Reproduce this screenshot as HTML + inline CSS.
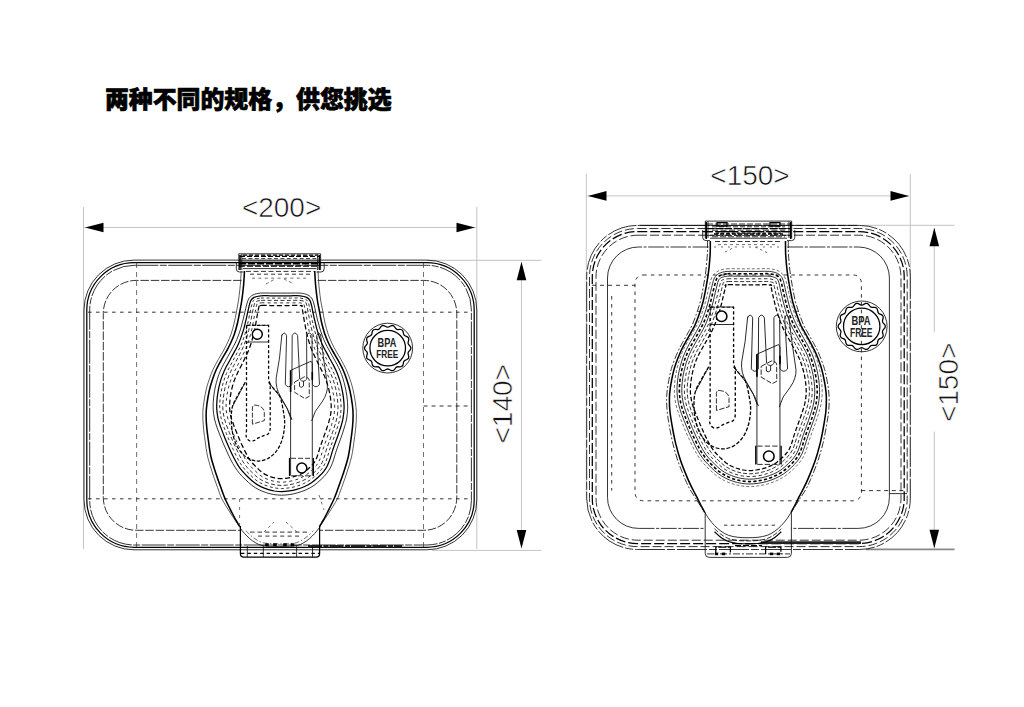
<!DOCTYPE html>
<html><head><meta charset="utf-8"><title>spec</title><style>
html,body{margin:0;padding:0;background:#fff}
body{width:1024px;height:707px;overflow:hidden;font-family:"Liberation Sans",sans-serif}
svg{display:block}
path,circle{fill:none}
.l{stroke:#111;stroke-width:.85}
.lt{stroke:#333;stroke-width:.7}
.lo{stroke:#333;stroke-width:.8}
.lm{stroke:#000;stroke-width:1.55}
.ls{stroke:#000;stroke-width:1.25}
.lb{stroke:#000;stroke-width:1.25}
.lk{stroke:#000;stroke-width:1.6}
.lkk{stroke:#222;stroke-width:2.6}
.lc{stroke:#000;stroke-width:1.45;fill:#fff}
.ti{fill:#000;stroke:#000;stroke-width:.7;stroke-linejoin:round;font-family:"Liberation Sans","Noto Sans CJK SC",sans-serif;font-weight:900;font-size:23.9px}
.ar{fill:#000;stroke:none}
.g{stroke:#c4c4c4;stroke-width:1}
.g2{stroke:#888;stroke-width:1.6}
.tp{fill:#111;stroke:#fff;stroke-width:.6;font-family:"Liberation Sans",sans-serif;font-size:28px}
.bp{fill:#222;stroke:none;font-family:"Liberation Sans",sans-serif;font-weight:bold}
</style></head><body>
<svg width="1024" height="707" viewBox="0 0 1024 707">
<text class="ti" x="104.9" y="108.2">两种不同的规格，供您挑选</text>
<path class="g" d="M83.5 207L83.5 549"/>
<path class="g" d="M476.8 207L476.8 549"/>
<path class="g" d="M84 227.5L476 227.5"/>
<path class="ar" d="M85 227.5L103.5 222.7L103.5 232.3Z"/>
<path class="ar" d="M475 227.5L456.5 232.3L456.5 222.7Z"/>
<path class="g" d="M427 260.3L541.5 260.3"/>
<path class="g" d="M432 550.4L541.5 550.4"/>
<path class="g" d="M521.5 262L521.5 548"/>
<path class="ar" d="M521.5 261.8L526.3 280.3L516.7 280.3Z"/>
<path class="ar" d="M521.5 548.6L516.7 530.1L526.3 530.1Z"/>
<text class="tp" x="241.89" y="217.2">&lt;200&gt;</text>
<text class="tp" transform="translate(511.8 403.8) rotate(-90)" x="0" y="0" text-anchor="middle">&lt;140&gt;</text>
<path class="g" d="M586.3 174L586.3 500"/>
<path class="g" d="M910.3 174L910.3 500"/>
<path class="g" d="M587 195.9L909 195.9"/>
<path class="ar" d="M588 195.9L606.5 191.1L606.5 200.7Z"/>
<path class="ar" d="M909 195.9L890.5 200.7L890.5 191.1Z"/>
<path class="g" d="M862 225.3L954.5 225.3"/>
<path class="g2" d="M866 549.4L954.5 549.4"/>
<path class="g" d="M934.3 228L934.3 332"/>
<path class="g" d="M934.3 431.5L934.3 548"/>
<path class="ar" d="M934.3 227.8L939.1 246.3L929.5 246.3Z"/>
<path class="ar" d="M934.3 548.2L929.5 529.7L939.1 529.7Z"/>
<text class="tp" x="710.29" y="184.7">&lt;150&gt;</text>
<text class="tp" transform="translate(957.7 382.4) rotate(-90)" x="0" y="0" text-anchor="middle">&lt;150&gt;</text>
<path class="l" d="M134 260.1H426.8A50 50 0 0 1 476.8 310.1V499.8A50 50 0 0 1 426.8 549.8H134A50 50 0 0 1 84 499.8V310.1A50 50 0 0 1 134 260.1Z"/>
<path class="lb" d="M134.2 262.7H426.8A47.4 47.4 0 0 1 474.2 310.1V499.9A47.4 47.4 0 0 1 426.8 547.3H134.2A47.4 47.4 0 0 1 86.8 499.9V310.1A47.4 47.4 0 0 1 134.2 262.7Z"/>
<path class="l" d="M134.3 265.3H426.8A44.6 44.6 0 0 1 471.4 309.9V500.4A44.6 44.6 0 0 1 426.8 545H134.3A44.6 44.6 0 0 1 89.7 500.4V309.9A44.6 44.6 0 0 1 134.3 265.3Z" stroke-dasharray="24 1.5 7 1.5"/>
<path class="l" d="M241.6 280.4H136.3A33 33 0 0 0 103.3 313.4V497.3A33 33 0 0 0 136.3 530.3H240.4" stroke-dasharray="8.5 1.8"/>
<path class="l" d="M317.6 280.4H423.8A33 33 0 0 1 456.8 313.4V497.3A33 33 0 0 1 423.8 530.3H319.6" stroke-dasharray="8.5 1.8"/>
<path class="lt" d="M136.6 263L136.6 547" stroke-dasharray="5 4"/>
<path class="lt" d="M423.5 263L423.5 547" stroke-dasharray="5 4"/>
<path class="l" d="M88 312.2L472 312.2" stroke-dasharray="3.6 4.4"/>
<path class="l" d="M88 498.8L472 498.8" stroke-dasharray="3.6 4.4"/>
<path class="l" d="M423.6 406L472 406" stroke-dasharray="4 4"/>
<path class="lkk" d="M308 546.3L402 546.3" stroke-dasharray="14 1.5 5 1"/>
<path class="lo" d="M241.2 271C241.1 272.7 240.8 277.8 240.6 281C240.4 284.2 240.2 286.7 239.8 290C239.4 293.3 239 297.3 238.4 301C237.8 304.7 237.1 308.3 236.4 312C235.7 315.7 235.1 319.3 234.2 323C233.3 326.7 232.2 330.7 231.1 334C230 337.3 228.7 340.2 227.4 343C226.1 345.8 224.8 348.3 223.3 351C221.7 353.7 220.1 356.3 218.4 359.4C216.6 362.5 214.6 366.1 213 369.5C211.4 372.9 210.2 376.4 209 380C207.8 383.6 206.8 386.8 205.9 391C205 395.2 204 401 203.5 405C203 409 202.8 411.3 202.8 415C202.8 418.7 203 422.8 203.4 427C203.8 431.2 204.3 435 205 440C205.7 445 206.4 451.3 207.7 457C209 462.7 211 468.3 212.8 474C214.7 479.7 217.3 486.8 218.8 491C220.3 495.2 220.7 496.5 221.9 499C223.1 501.5 224.6 503.7 226 506C227.4 508.3 228.9 510.7 230.4 513C231.9 515.3 233.5 517.7 235 520C236.6 522.3 238.9 525.6 239.7 526.7"/>
<path class="lo" d="M318 271C318.1 272.7 318.4 277.8 318.6 281C318.8 284.2 319 286.7 319.4 290C319.8 293.3 320.2 297.3 320.8 301C321.4 304.7 322.2 308.3 322.9 312C323.6 315.7 324.1 319.3 325 323C325.9 326.7 327 330.7 328.1 334C329.2 337.3 330.5 340.2 331.8 343C333.1 345.8 334.4 348.3 336 351C337.5 353.7 339.1 356.3 340.9 359.4C342.6 362.5 344.6 366.1 346.2 369.5C347.8 372.9 349 376.4 350.2 380C351.4 383.6 352.4 386.8 353.3 391C354.2 395.2 355.2 401 355.7 405C356.2 409 356.4 411.3 356.4 415C356.4 418.7 356.2 422.8 355.8 427C355.4 431.2 354.9 435 354.2 440C353.5 445 352.8 451.3 351.5 457C350.2 462.7 348.2 468.3 346.4 474C344.6 479.7 341.9 486.8 340.4 491C338.9 495.2 338.5 496.5 337.3 499C336.1 501.5 334.6 503.7 333.2 506C331.8 508.3 330.3 510.7 328.8 513C327.3 515.3 325.8 517.7 324.2 520C322.7 522.3 320.3 525.6 319.5 526.7"/>
<path class="lm" d="M244.5 271C244.4 272.7 244.1 277.8 243.9 281C243.7 284.2 243.5 286.7 243.1 290C242.7 293.3 242.3 297.3 241.7 301C241.1 304.7 240.4 308.3 239.7 312C239 315.7 238.4 319.3 237.5 323C236.6 326.7 235.5 330.7 234.4 334C233.3 337.3 232 340.2 230.7 343C229.4 345.8 228.1 348.3 226.6 351C225 353.7 223.4 356.3 221.7 359.4C219.9 362.5 217.9 366.1 216.3 369.5C214.7 372.9 213.5 376.4 212.3 380C211.1 383.6 210.1 386.8 209.2 391C208.3 395.2 207.3 401 206.8 405C206.3 409 206.1 411.3 206.1 415C206.1 418.7 206.3 422.8 206.7 427C207.1 431.2 207.6 435 208.3 440C209 445 209.7 451.3 211 457C212.3 462.7 214.3 468.3 216.1 474C218 479.7 220.6 486.8 222.1 491C223.6 495.2 224.1 496.5 225.2 499C226.3 501.5 227.4 503.7 228.6 506C229.7 508.3 230.9 510.7 232.1 513C233.3 515.3 234.6 517.7 235.8 520C237.1 522.3 239.1 525.6 239.7 526.7"/>
<path class="lm" d="M314.7 271C314.8 272.7 315.1 277.8 315.3 281C315.5 284.2 315.7 286.7 316.1 290C316.5 293.3 316.9 297.3 317.5 301C318.1 304.7 318.9 308.3 319.6 312C320.2 315.7 320.8 319.3 321.7 323C322.6 326.7 323.7 330.7 324.8 334C325.9 337.3 327.2 340.2 328.5 343C329.8 345.8 331.1 348.3 332.7 351C334.2 353.7 335.8 356.3 337.6 359.4C339.3 362.5 341.3 366.1 342.9 369.5C344.5 372.9 345.7 376.4 346.9 380C348.1 383.6 349.1 386.8 350 391C350.9 395.2 351.9 401 352.4 405C352.9 409 353.1 411.3 353.1 415C353.1 418.7 352.9 422.8 352.5 427C352.1 431.2 351.6 435 350.9 440C350.2 445 349.5 451.3 348.2 457C346.9 462.7 345 468.3 343.1 474C341.2 479.7 338.6 486.8 337.1 491C335.6 495.2 335.1 496.5 334 499C332.9 501.5 331.8 503.7 330.6 506C329.5 508.3 328.3 510.7 327.1 513C325.9 515.3 324.6 517.7 323.4 520C322.1 522.3 320.1 525.6 319.5 526.7"/>
<path class="l" d="M239.8 527.7C240.6 528.6 242.7 531.5 244.3 533.3C246 535.1 247.9 537 249.7 538.6C251.5 540.2 253.3 541.5 255.3 542.6C257.3 543.7 259.1 544.8 261.5 545.4C263.9 546 267 546 270 546.2C273 546.4 276.4 546.4 279.6 546.4C282.8 546.4 286.2 546.4 289.2 546.2C292.2 546 295.2 546 297.7 545.4C300.1 544.8 301.9 543.7 303.9 542.6C305.9 541.5 307.7 540.2 309.5 538.6C311.3 537 313.2 535.1 314.9 533.3C316.5 531.5 318.6 528.6 319.4 527.7"/>
<path class="lt" d="M245.9 530.7C246.8 531.6 249.5 534.5 251.3 536C253.1 537.5 254.9 538.9 256.9 540C258.9 541.1 260.7 542.2 263.1 542.8C265.6 543.4 268.9 543.4 271.6 543.6C274.4 543.8 276.9 543.8 279.6 543.8C282.3 543.8 284.8 543.8 287.6 543.6C290.3 543.4 293.6 543.4 296.1 542.8C298.5 542.2 300.3 541.1 302.3 540C304.3 538.9 306.1 537.5 307.9 536C309.7 534.5 312.4 531.6 313.3 530.7" stroke-dasharray="5 2 1.5 2"/>
<path class="lb" d="M240.4 526V553.8Q240.4 557.2 243.8 557.2H316.2Q319.6 557.2 319.6 553.8V526"/>
<path class="lb" d="M241 553.4L319 553.4" stroke-dasharray="3.4 3"/>
<path class="l" d="M247.3 546L247.3 557"/>
<path class="l" d="M263.3 546L263.3 557"/>
<path class="l" d="M296.6 546L296.6 557"/>
<path class="l" d="M312.5 546L312.5 557"/>
<rect x="265.2" y="543.3" width="3.6" height="3" fill="#000"/>
<rect x="273.2" y="543.3" width="3.6" height="3" fill="#000"/>
<rect x="283.2" y="543.3" width="3.6" height="3" fill="#000"/>
<rect x="290.7" y="543.3" width="3.6" height="3" fill="#000"/>
<path class="l" d="M250 532.1L310 532.1" stroke-dasharray="4.5 3"/>
<path class="l" d="M258 536.1L302 536.1" stroke-dasharray="4 3.4"/>
<path class="lt" d="M239.6 499V527" stroke-dasharray="3 5"/>
<path class="lt" d="M319 495L324 510" stroke-dasharray="3 4"/>
<path class="lt" d="M264 532L274 522" stroke-dasharray="3 3"/>
<path class="lt" d="M286 522L297 532" stroke-dasharray="3 3"/>
<path class="l" d="M238.8 270V253.8H320.6V270"/>
<path class="lm" d="M240 255V270M319.4 255V270"/>
<path class="lb" d="M243 255L317 255" stroke-dasharray="4 2"/>
<path class="l" d="M236.3 262V268.8Q236.3 272 239.5 272H243.5M324.2 262V268.8Q324.2 272 321 272H316.5"/>
<path class="l" d="M241.8 254L241.8 270"/>
<path class="l" d="M317.6 254L317.6 270"/>
<path class="lb" d="M240 256.4L319.5 256.4" stroke-dasharray="5 2"/>
<path class="l" d="M242 258.6L317.5 258.6" stroke-dasharray="4 2.4"/>
<path class="l" d="M239 261L320.5 261"/>
<path class="lk" d="M239 263.6L320.5 263.6" stroke-dasharray="7 2"/>
<path class="lb" d="M239 266.2L320.5 266.2" stroke-dasharray="6 2"/>
<path class="l" d="M243 268.6L316.5 268.6"/>
<path class="l" d="M246 271.4L314 271.4" stroke-dasharray="5 2.5"/>
<path class="l" d="M250 274.2L310 274.2" stroke-dasharray="4 3"/>
<path class="lt" d="M252 278.2L308 278.2" stroke-dasharray="3 3.4"/>
<path class="lt" d="M266 284L275 279M284 279L294 284" stroke-dasharray="3 2.5"/>
<path class="l" d="M260.4 293.1C263.3 292.8 267.1 293.1 270.4 293.1C273.7 293.1 277.1 293.1 280.4 293.1C283.7 293.1 287.1 293.1 290.4 293.1C293.7 293.1 297.5 292.8 300.4 293.1C303.3 293.4 305.9 294 307.9 295C309.9 296 311.1 297.3 312.2 299C313.2 300.7 313.6 302.8 314.2 305C314.8 307.2 315.1 309.5 315.7 312C316.3 314.5 316.9 317.3 317.5 320C318.2 322.7 318.9 325.3 319.7 328C320.5 330.7 321.5 333.5 322.4 336C323.3 338.5 324.2 340.7 325.3 343C326.4 345.3 327.7 347.7 329 350C330.3 352.3 331.6 354.7 332.9 357C334.2 359.3 335.6 361.7 336.8 364C338 366.3 339.2 368.7 340.2 371C341.2 373.3 341.9 375.3 342.8 378C343.6 380.7 344.5 383.8 345.2 387C345.9 390.2 346.6 393.5 347 397C347.4 400.5 347.8 404.3 347.7 408C347.6 411.7 347.1 415.7 346.6 419C346 422.3 345 425.2 344.2 428C343.4 430.8 342.5 433.3 341.6 436C340.6 438.7 339.7 441.3 338.7 444C337.8 446.7 336.7 449.3 335.9 452C335 454.7 334.3 457.5 333.5 460C332.6 462.5 331.9 464.8 330.7 467C329.6 469.2 328.2 471.4 326.6 473.5C325 475.6 323.3 477.3 321.2 479.3C319.1 481.3 316.5 483.6 314 485.4C311.5 487.1 308.9 488.6 306.1 489.8C303.4 491 300.4 492 297.7 492.8C295 493.6 292.5 494.1 289.8 494.5C287.1 494.9 284.3 495.2 281.6 495.2C278.9 495.2 276.3 494.9 273.8 494.5C271.3 494.1 269.1 493.6 266.7 492.8C264.3 492 261.6 491 259.1 489.8C256.7 488.6 254.3 487.1 252 485.4C249.7 483.6 247.2 481.3 245.2 479.3C243.1 477.3 241.3 475.6 239.6 473.5C237.9 471.4 236.3 469.2 234.9 467C233.4 464.8 232.2 462.5 230.9 460C229.6 457.5 228.3 454.7 227.1 452C225.8 449.3 224.6 446.7 223.5 444C222.4 441.3 221.3 438.7 220.3 436C219.2 433.3 218.2 430.8 217.2 428C216.3 425.2 215.2 422.3 214.5 419C213.8 415.7 213.2 411.7 213.1 408C213 404.3 213.3 400.5 213.7 397C214 393.5 214.6 390.2 215.3 387C216 383.8 216.9 380.7 217.7 378C218.5 375.3 219.3 373.3 220.3 371C221.3 368.7 222.4 366.3 223.7 364C224.9 361.7 226.3 359.3 227.6 357C228.9 354.7 230.2 352.3 231.5 350C232.8 347.7 234.1 345.3 235.3 343C236.4 340.7 237.2 338.5 238.2 336C239.1 333.5 240.1 330.7 240.9 328C241.7 325.3 242.4 322.7 243 320C243.7 317.3 244.3 314.5 244.9 312C245.5 309.5 246 307.2 246.6 305C247.2 302.8 247.5 300.7 248.6 299C249.6 297.3 250.9 296 252.9 295C254.9 294 257.5 293.4 260.4 293.1Z"/>
<path class="lb" d="M260.7 295.8C263.4 295.5 267.1 295.8 270.4 295.8C273.7 295.8 277.1 295.8 280.4 295.8C283.7 295.8 287.1 295.8 290.4 295.8C293.7 295.8 297.4 295.5 300.1 295.8C302.8 296.1 305.1 296.6 306.7 297.4C308.3 298.2 309.1 299.1 309.9 300.4C310.7 301.8 311.1 303.7 311.6 305.7C312.1 307.7 312.5 310.1 313 312.6C313.5 315.1 314.1 318 314.8 320.7C315.4 323.4 316 326.1 316.8 328.9C317.6 331.6 318.5 334.5 319.4 337.1C320.3 339.7 321.2 342 322.3 344.4C323.4 346.8 324.7 349.3 326 351.6C327.3 354 328.6 356.4 329.8 358.7C331.1 361 332.5 363.4 333.6 365.6C334.8 367.9 335.9 370.2 336.9 372.4C337.8 374.6 338.5 376.5 339.3 379.1C340.2 381.6 341.1 384.7 341.7 387.8C342.4 390.8 343 394.1 343.4 397.4C343.8 400.8 344.2 404.4 344.1 407.9C344 411.4 343.6 415.2 343 418.4C342.5 421.6 341.6 424.2 340.8 427C340 429.7 339.1 432.2 338.2 434.8C337.3 437.5 336.3 440.1 335.3 442.8C334.4 445.5 333.3 448.2 332.5 450.9C331.6 453.6 330.9 456.4 330.1 458.8C329.2 461.3 328.6 463.3 327.5 465.4C326.5 467.5 325.2 469.4 323.8 471.3C322.3 473.2 320.7 474.8 318.7 476.7C316.7 478.5 314.3 480.8 311.9 482.5C309.6 484.1 307.2 485.4 304.7 486.5C302.1 487.7 299.3 488.6 296.7 489.3C294.1 490.1 291.8 490.6 289.3 490.9C286.7 491.3 284.1 491.6 281.6 491.6C279.1 491.6 276.7 491.3 274.4 491C272.1 490.6 270.1 490.1 267.8 489.4C265.5 488.7 263 487.7 260.8 486.6C258.5 485.5 256.3 484.2 254.2 482.5C252 480.9 249.6 478.6 247.7 476.7C245.7 474.8 244 473.1 242.4 471.2C240.7 469.3 239.2 467.2 237.9 465.1C236.5 462.9 235.4 460.8 234.1 458.3C232.8 455.9 231.5 453.1 230.3 450.5C229.1 447.9 227.9 445.2 226.8 442.6C225.7 440 224.6 437.3 223.6 434.7C222.6 432.1 221.6 429.6 220.6 426.9C219.7 424.1 218.7 421.4 218 418.3C217.4 415.1 216.8 411.3 216.7 407.9C216.6 404.4 216.9 400.7 217.2 397.4C217.6 394 218.2 390.8 218.8 387.7C219.5 384.7 220.3 381.6 221.1 379.1C221.9 376.5 222.6 374.6 223.6 372.4C224.5 370.2 225.7 367.9 226.8 365.6C228 363.4 229.4 361.1 230.6 358.7C231.9 356.4 233.2 354 234.5 351.6C235.8 349.3 237.1 346.8 238.2 344.4C239.3 342 240.2 339.7 241.1 337.1C242 334.5 243 331.6 243.8 328.9C244.6 326.1 245.2 323.4 245.8 320.7C246.5 318 247 315.1 247.6 312.6C248.2 310.1 248.7 307.8 249.2 305.7C249.8 303.7 250.1 301.8 250.9 300.4C251.7 299.1 252.5 298.2 254.1 297.4C255.7 296.6 258 296.1 260.7 295.8Z"/>
<path class="l" d="M260.9 298.1C263.5 297.8 267.2 298.1 270.4 298.1C273.6 298.1 277.1 298.1 280.4 298.1C283.7 298.1 287.2 298.1 290.4 298.1C293.6 298.1 297.3 297.8 299.9 298.1C302.4 298.3 304.3 298.9 305.7 299.5C307 300.1 307.4 300.5 308 301.7C308.6 302.8 308.9 304.4 309.3 306.3C309.8 308.2 310.2 310.6 310.7 313.1C311.2 315.6 311.8 318.5 312.4 321.3C313 324 313.6 326.8 314.3 329.6C315.1 332.4 316 335.4 316.9 338C317.8 340.7 318.6 343.1 319.7 345.6C320.8 348.1 322.2 350.6 323.4 353C324.7 355.5 326 357.8 327.2 360.2C328.5 362.5 329.8 364.8 330.9 367.1C332.1 369.3 333.1 371.4 334.1 373.6C335 375.8 335.6 377.5 336.4 380C337.2 382.5 338.1 385.5 338.7 388.4C339.4 391.4 340 394.5 340.4 397.8C340.7 401 341.1 404.5 341.1 407.9C341 411.2 340.5 414.8 340 417.9C339.5 420.9 338.6 423.5 337.8 426.1C337 428.8 336.2 431.2 335.3 433.8C334.4 436.4 333.4 439.1 332.4 441.8C331.5 444.5 330.4 447.2 329.6 449.9C328.7 452.6 327.9 455.5 327.2 457.9C326.4 460.2 325.8 462.1 324.8 464C323.8 465.9 322.7 467.7 321.4 469.4C320 471.2 318.5 472.7 316.6 474.5C314.7 476.2 312.4 478.4 310.2 479.9C308 481.5 305.8 482.7 303.4 483.7C301 484.8 298.3 485.7 295.9 486.4C293.4 487.1 291.2 487.6 288.8 487.9C286.4 488.3 283.9 488.5 281.6 488.6C279.3 488.6 277 488.3 274.8 487.9C272.7 487.6 270.9 487.1 268.7 486.5C266.6 485.8 264.2 484.9 262.1 483.9C260 482.8 258.1 481.6 256 480.1C253.9 478.5 251.7 476.3 249.8 474.5C247.9 472.7 246.2 471.1 244.7 469.2C243.1 467.4 241.8 465.5 240.4 463.4C239.1 461.4 238 459.3 236.8 456.9C235.6 454.6 234.3 451.8 233.1 449.2C231.9 446.6 230.7 444 229.6 441.4C228.5 438.8 227.5 436.2 226.4 433.6C225.4 431 224.4 428.5 223.5 425.9C222.6 423.2 221.7 420.7 221 417.7C220.4 414.6 219.9 411.1 219.7 407.7C219.6 404.4 219.9 400.9 220.3 397.7C220.6 394.5 221.2 391.3 221.8 388.4C222.4 385.4 223.3 382.4 224.1 380C224.8 377.5 225.5 375.8 226.4 373.6C227.3 371.4 228.4 369.3 229.5 367.1C230.7 364.8 232 362.5 233.2 360.2C234.5 357.8 235.8 355.5 237 353C238.3 350.6 239.7 348.1 240.8 345.6C241.9 343.1 242.7 340.7 243.7 338.1C244.6 335.4 245.5 332.4 246.2 329.6C247 326.8 247.6 324 248.2 321.3C248.8 318.6 249.4 315.7 249.9 313.2C250.4 310.7 250.9 308.3 251.4 306.4C251.9 304.5 252.2 302.8 252.8 301.7C253.4 300.5 253.8 300.1 255.1 299.5C256.5 298.9 258.4 298.3 260.9 298.1Z" stroke-dasharray="3 2.6"/>
<path class="l" d="M261.2 300.4C263.6 300.2 267.2 300.4 270.4 300.4C273.6 300.4 277.1 300.4 280.4 300.4C283.7 300.4 287.2 300.4 290.4 300.4C293.6 300.4 297.2 300.2 299.6 300.4C302 300.5 303.6 301.1 304.6 301.5C305.7 302 305.6 302 306 302.9C306.4 303.8 306.7 305.1 307.1 306.9C307.5 308.7 307.9 311.1 308.4 313.6C308.9 316.1 309.4 319.1 310 321.9C310.6 324.7 311.2 327.5 311.9 330.4C312.6 333.2 313.5 336.2 314.4 339C315.2 341.7 316.1 344.2 317.2 346.8C318.3 349.4 319.7 352 320.9 354.4C322.1 356.9 323.4 359.3 324.6 361.6C325.8 364 327.1 366.3 328.2 368.5C329.3 370.7 330.4 372.7 331.2 374.8C332.1 376.9 332.8 378.5 333.5 380.9C334.3 383.3 335.1 386.2 335.8 389.1C336.4 392 336.9 395 337.3 398.1C337.7 401.3 338 404.6 338 407.8C337.9 411 337.5 414.4 337 417.3C336.5 420.2 335.7 422.7 334.9 425.3C334.1 427.8 333.3 430.3 332.4 432.8C331.5 435.4 330.5 438.1 329.6 440.7C328.6 443.4 327.5 446.3 326.6 449C325.8 451.7 325 454.6 324.3 456.9C323.5 459.1 323 460.8 322.1 462.6C321.2 464.4 320.2 465.9 318.9 467.5C317.7 469.1 316.2 470.6 314.5 472.2C312.7 473.9 310.5 476 308.4 477.4C306.4 478.9 304.4 480 302.1 481C299.9 482 297.3 482.8 295 483.5C292.7 484.1 290.6 484.6 288.4 484.9C286.1 485.2 283.8 485.5 281.6 485.5C279.4 485.5 277.3 485.2 275.3 484.9C273.3 484.6 271.6 484.2 269.7 483.6C267.7 482.9 265.5 482.1 263.5 481.1C261.5 480.1 259.8 479.1 257.8 477.6C255.9 476.2 253.7 474 251.9 472.3C250.1 470.6 248.5 469 247 467.3C245.6 465.5 244.3 463.7 243 461.7C241.8 459.8 240.7 457.8 239.5 455.5C238.3 453.2 237.1 450.5 235.9 447.9C234.7 445.4 233.5 442.8 232.4 440.2C231.3 437.6 230.3 435 229.3 432.5C228.3 429.9 227.3 427.5 226.4 424.9C225.6 422.3 224.6 419.9 224 417C223.4 414.2 222.9 410.8 222.8 407.6C222.7 404.4 223 401.1 223.3 398C223.7 394.9 224.2 391.9 224.8 389C225.4 386.2 226.2 383.3 227 380.9C227.7 378.5 228.4 376.9 229.2 374.8C230.1 372.7 231.1 370.7 232.2 368.5C233.3 366.3 234.6 364 235.9 361.6C237.1 359.3 238.4 356.9 239.6 354.4C240.8 352 242.2 349.4 243.3 346.8C244.4 344.3 245.3 341.7 246.2 339C247.1 336.3 247.9 333.2 248.7 330.4C249.4 327.5 250 324.7 250.6 321.9C251.2 319.1 251.7 316.2 252.2 313.7C252.7 311.2 253.2 308.8 253.7 307C254.1 305.2 254.4 303.8 254.8 302.9C255.2 302 255.1 302 256.2 301.5C257.2 301.1 258.8 300.5 261.2 300.4Z" stroke-dasharray="4 2.4"/>
<path class="l" d="M261.5 302.8C263.6 302.7 267.2 302.9 270.4 302.9C273.6 302.9 277.1 302.9 280.4 302.9C283.7 302.9 287.2 302.9 290.4 302.9C293.6 302.9 297.2 302.7 299.3 302.8C301.5 303 302.8 303.5 303.5 303.8C304.3 304 303.7 303.6 303.9 304.2C304.1 304.9 304.4 305.9 304.7 307.6C305 309.2 305.4 311.7 305.9 314.2C306.3 316.7 306.9 319.7 307.4 322.5C308 325.4 308.5 328.2 309.2 331.2C309.9 334.1 310.7 337.2 311.6 340C312.5 342.8 313.4 345.5 314.4 348.1C315.5 350.8 316.9 353.4 318.1 355.9C319.3 358.5 320.6 360.9 321.8 363.2C323 365.6 324.2 367.8 325.3 370C326.4 372.1 327.3 374.1 328.2 376.1C329 378.1 329.6 379.6 330.3 381.9C331.1 384.2 331.9 387 332.5 389.8C333.1 392.6 333.7 395.5 334 398.5C334.4 401.5 334.7 404.7 334.7 407.8C334.6 410.8 334.2 414 333.7 416.8C333.2 419.5 332.5 421.8 331.7 424.3C331 426.8 330.1 429.2 329.2 431.8C328.4 434.3 327.4 436.9 326.4 439.6C325.5 442.3 324.4 445.2 323.5 447.9C322.6 450.6 321.8 453.6 321.1 455.8C320.4 458 319.9 459.5 319.1 461.1C318.3 462.7 317.5 464 316.3 465.5C315.2 466.9 313.8 468.3 312.2 469.8C310.6 471.4 308.4 473.4 306.5 474.7C304.6 476.1 302.8 477 300.7 477.9C298.7 478.9 296.2 479.7 294.1 480.3C292 480.9 289.9 481.3 287.9 481.6C285.8 481.9 283.6 482.2 281.6 482.2C279.6 482.2 277.7 481.9 275.9 481.6C274 481.3 272.5 481 270.7 480.4C268.9 479.8 266.8 479.1 265 478.2C263.2 477.3 261.6 476.4 259.8 475C258 473.6 255.9 471.5 254.2 469.9C252.5 468.3 251 466.8 249.6 465.1C248.2 463.5 247 461.8 245.8 459.9C244.6 458.1 243.6 456.2 242.5 454C241.3 451.8 240 449 238.9 446.5C237.7 444 236.6 441.4 235.5 438.9C234.4 436.4 233.4 433.8 232.4 431.2C231.4 428.7 230.4 426.3 229.6 423.8C228.7 421.4 227.9 419.1 227.3 416.4C226.7 413.6 226.2 410.5 226.1 407.5C226 404.5 226.3 401.3 226.6 398.4C226.9 395.4 227.4 392.5 228 389.7C228.6 387 229.4 384.2 230.2 381.9C230.9 379.6 231.5 378.1 232.3 376.1C233.1 374.1 234.1 372.1 235.2 370C236.2 367.8 237.5 365.6 238.7 363.2C239.9 360.9 241.1 358.5 242.4 356C243.6 353.4 245 350.8 246.1 348.1C247.2 345.5 248 342.9 248.9 340C249.8 337.2 250.6 334.1 251.3 331.2C252.1 328.3 252.6 325.4 253.2 322.5C253.7 319.7 254.2 316.8 254.7 314.3C255.2 311.8 255.7 309.4 256.1 307.7C256.4 306 256.7 304.9 256.9 304.2C257.1 303.6 256.5 304 257.3 303.8C258 303.5 259.3 303 261.5 302.8Z" stroke-dasharray="3 3.2"/>
<path class="lb" d="M261.7 305.4C263.7 305.3 267.3 305.5 270.4 305.5C273.5 305.5 277.1 305.5 280.4 305.5C283.7 305.5 287.3 305.5 290.4 305.5C293.5 305.5 297.1 305.3 299.1 305.4C301.1 305.5 301.9 306.1 302.4 306.1C302.8 306.1 301.7 305.3 301.7 305.6C301.7 306 301.9 306.7 302.2 308.2C302.4 309.8 302.9 312.3 303.3 314.8C303.7 317.3 304.2 320.3 304.7 323.2C305.3 326.1 305.8 329 306.4 332C307.1 335 307.9 338.2 308.8 341.1C309.6 344 310.5 346.7 311.6 349.5C312.7 352.2 314 354.9 315.2 357.5C316.4 360.1 317.7 362.5 318.8 364.9C320 367.2 321.2 369.5 322.3 371.6C323.3 373.7 324.2 375.6 325 377.5C325.8 379.4 326.4 380.8 327 383C327.7 385.2 328.5 387.9 329.1 390.6C329.7 393.2 330.2 396.1 330.6 398.9C330.9 401.8 331.3 404.8 331.2 407.7C331.2 410.6 330.8 413.6 330.3 416.2C329.8 418.8 329.1 420.9 328.4 423.4C327.7 425.8 326.8 428.1 326 430.6C325.1 433.1 324.1 435.8 323.2 438.5C322.2 441.2 321.1 444.2 320.2 446.9C319.3 449.6 318.5 452.6 317.8 454.7C317.2 456.8 316.8 458.1 316 459.5C315.3 461 314.6 462.1 313.6 463.4C312.6 464.7 311.3 465.9 309.8 467.3C308.3 468.7 306.3 470.6 304.6 471.9C302.8 473.1 301.2 473.9 299.3 474.8C297.4 475.6 295.1 476.4 293.1 476.9C291.1 477.5 289.3 477.9 287.4 478.2C285.4 478.5 283.4 478.7 281.6 478.7C279.8 478.7 278.1 478.5 276.4 478.2C274.8 477.9 273.4 477.6 271.7 477.1C270.1 476.6 268.2 475.9 266.6 475.1C264.9 474.3 263.6 473.5 261.9 472.2C260.2 470.9 258.2 469 256.6 467.4C255 465.8 253.5 464.5 252.2 462.9C250.9 461.4 249.8 459.8 248.7 458.1C247.6 456.3 246.7 454.6 245.6 452.4C244.4 450.2 243.2 447.5 242 445.1C240.9 442.6 239.7 440.1 238.7 437.5C237.6 435 236.6 432.4 235.6 430C234.6 427.5 233.7 425.1 232.9 422.7C232 420.4 231.2 418.2 230.7 415.7C230.1 413.1 229.7 410.2 229.6 407.3C229.5 404.5 229.8 401.5 230.1 398.7C230.4 395.9 230.9 393.1 231.4 390.4C232 387.8 232.8 385.1 233.5 382.9C234.1 380.8 234.7 379.3 235.5 377.4C236.3 375.6 237.2 373.7 238.2 371.6C239.2 369.5 240.5 367.2 241.6 364.9C242.8 362.5 244 360.1 245.2 357.5C246.5 355 247.8 352.2 248.9 349.5C250 346.8 250.9 344 251.8 341.1C252.6 338.2 253.4 335 254.1 332C254.8 329.1 255.3 326.1 255.9 323.2C256.4 320.4 256.8 317.4 257.3 314.9C257.7 312.5 258.3 310 258.6 308.4C258.9 306.9 259.1 306 259.1 305.6C259.1 305.2 258 306.1 258.4 306.1C258.9 306.1 259.7 305.5 261.7 305.4Z" stroke-dasharray="5 2.6"/>
<g><path class="ls" d="M246.5 325.3V431Q244.6 438.5 250 441Q254 441.6 257 438.6Q262 436.2 267.5 434.4Q270.4 432.6 270.2 427V384L268.6 380V325.3Z" stroke-dasharray="3 2.2"/><path class="l" d="M246.5 325.3H268.6" stroke-dasharray="4 2"/><path class="l" d="M246.5 342H268.6"/><circle class="lc" cx="257.3" cy="334.2" r="5"/><path class="l" d="M252.4 424.2V408Q252.6 404.5 256 405.2Q264.3 406.5 264.3 413V420.6Z" stroke-dasharray="5 1.6"/><path class="lb" d="M245.2 382.4C244 384.5 240.1 391 238 395C235.9 399 233.6 402.3 232.5 406.5C231.4 410.7 231.2 415.2 231.3 420C231.4 424.8 231.9 430.3 233 435C234.1 439.7 235.8 444.3 238 448C240.2 451.7 242.8 454.8 246 457C249.2 459.2 253.3 460.8 257 461C260.7 461.2 264.8 460.2 268 458.5C271.2 456.8 274.2 454.1 276.5 451C278.8 447.9 280.6 444.3 282 440C283.4 435.7 284.4 429.7 284.6 425C284.9 420.3 284.3 416.7 283.5 412C282.7 407.3 281.5 400.4 279.9 396.6C278.3 392.8 275.9 391.4 274 389C272.1 386.6 269.5 383.5 268.6 382.4" stroke-dasharray="3.6 1.6"/><path class="l" d="M232.5 406.5L245.2 382.4"/><path class="l" d="M268.6 382.4L279.9 396.6L288.4 410.7L292 420"/><path class="l" d="M281.9 334.5L279.5 358L276.2 378Q275.3 388 280.5 396.6Q288 408 291 419"/><path class="l" d="M320.6 334.5L323.5 358L327.4 385Q328 393 322 402Q314 411 311.6 421"/><path class="l" d="M281.9 335.5Q284.2 330.5 286.6 335.5M292.2 335.5Q294.9 330.5 297.6 335.5M306.6 335.5Q309.3 330.5 312 335.5M316.8 335.5Q318.7 330.5 320.6 335.5"/><path class="l" d="M286.6 335.5L285.3 384.5Q288.6 389 291.9 384.5L292.2 335.5"/><path class="l" d="M297.6 335.5L299.7 379Q303.2 383.5 306.8 379L306.6 335.5"/><path class="l" d="M312 335.5L312.4 384.5Q315.9 389 319.5 384.5L316.8 335.5"/><path class="l" d="M290.6 475.5V370.4L311 361.2L312.3 363.3V475.5"/><path class="lk" d="M290.6 370.4V392"/><path class="lk" d="M312.3 372V380"/><path class="lb" d="M289.5 458V476M313.4 458V476"/><path class="l" d="M291 458.3H312" stroke-dasharray="5 2"/><path class="l" d="M291 475.8H312" stroke-dasharray="5 2"/><circle class="lc" cx="301.8" cy="468" r="5"/><path class="l" d="M294.6 382L304.5 376.8Q308.8 377.2 309.2 380L309.3 396.3L305 398.6L294.6 392.3Z" stroke-dasharray="5 1.6"/><path class="l" d="M299.5 382V386.5Q301 388.5 303.5 386V381"/></g>
<circle class="l" cx="387.7" cy="348.1" r="24.9"/><path class="lb" d="M410.9 348.1L410.5 349.4L409.6 350.6L408.6 351.7L408.1 352.8L408.1 354L408.5 355.4L408.8 356.8L408.6 358.1L407.7 359.1L406.4 359.8L405 360.4L404.1 361.1L403.5 362.3L403.3 363.7L402.9 365.1L402.1 366.2L400.9 366.7L399.4 366.8L398 366.7L396.8 366.9L395.8 367.7L395 368.9L394 370L392.9 370.7L391.5 370.6L390.2 370L388.9 369.3L387.7 369L386.5 369.3L385.2 370L383.9 370.6L382.5 370.7L381.4 370L380.4 368.9L379.6 367.7L378.6 366.9L377.4 366.7L376 366.8L374.5 366.7L373.3 366.2L372.5 365.1L372.1 363.7L371.9 362.3L371.3 361.1L370.4 360.4L369 359.8L367.7 359.1L366.8 358.1L366.6 356.8L366.9 355.4L367.3 354L367.3 352.8L366.8 351.7L365.8 350.6L364.9 349.4L364.5 348.1L364.9 346.8L365.8 345.6L366.8 344.5L367.3 343.4L367.3 342.2L366.9 340.8L366.6 339.4L366.8 338.1L367.7 337.1L369 336.4L370.4 335.8L371.3 335.1L371.9 333.9L372.1 332.5L372.5 331.1L373.3 330L374.5 329.5L376 329.4L377.4 329.5L378.6 329.3L379.6 328.5L380.4 327.3L381.4 326.2L382.5 325.5L383.9 325.6L385.2 326.2L386.5 326.9L387.7 327.2L388.9 326.9L390.2 326.2L391.5 325.6L392.9 325.5L394 326.2L395 327.3L395.8 328.5L396.8 329.3L398 329.5L399.4 329.4L400.9 329.5L402.1 330L402.9 331.1L403.3 332.5L403.5 333.9L404.1 335.1L405 335.8L406.4 336.4L407.7 337.1L408.6 338.1L408.8 339.4L408.5 340.8L408.1 342.2L408.1 343.4L408.6 344.5L409.6 345.6L410.5 346.8Z"/><circle class="lb" cx="387.7" cy="348.1" r="17.8"/>
<text class="bp" transform="translate(377.61 347.1) scale(0.7405 1)" x="0" y="0" font-size="12.39">BPA</text>
<text class="bp" transform="translate(376.29 358.4) scale(0.6997 1)" x="0" y="0" font-size="11.8">FREE</text>

<path class="l" d="M637.7 225.4H859.3A51 51 0 0 1 910.3 276.4V498.5A51 51 0 0 1 859.3 549.5H637.7A51 51 0 0 1 586.7 498.5V276.4A51 51 0 0 1 637.7 225.4Z" stroke-dasharray="30 2 8 2"/>
<path class="l" d="M637.5 228.5H859.2A48 48 0 0 1 907.2 276.5V498.6A48 48 0 0 1 859.2 546.6H637.5A48 48 0 0 1 589.5 498.6V276.5A48 48 0 0 1 637.5 228.5Z" stroke-dasharray="9 3"/>
<path class="lb" d="M637.3 231.6H859.2A45 45 0 0 1 904.2 276.6V498.5A45 45 0 0 1 859.2 543.5H637.3A45 45 0 0 1 592.3 498.5V276.6A45 45 0 0 1 637.3 231.6Z" stroke-dasharray="10 3"/>
<path class="l" d="M638 235.2H859A42 42 0 0 1 901 277.2V498.2A42 42 0 0 1 859 540.2H638A42 42 0 0 1 596 498.2V277.2A42 42 0 0 1 638 235.2Z" stroke-dasharray="9 3"/>
<path class="l" d="M708.6 247H638.5M638.5 528.4H705.2M787.2 247H858.4M858.4 528.4H791.4" stroke-dasharray="16 1.6 3 1.6"/>
<path class="l" d="M638.5 247A31 31 0 0 0 607.5 278V497.4A31 31 0 0 0 638.5 528.4M858.4 247A31 31 0 0 1 889.4 278V497.4A31 31 0 0 1 858.4 528.4"/>
<path class="lt" d="M714 247L782 247" stroke-dasharray="2 5"/>
<path class="l" d="M643 275H853.4A8 8 0 0 1 861.4 283V492.8A8 8 0 0 1 853.4 500.8H643A8 8 0 0 1 635 492.8V283A8 8 0 0 1 643 275Z" stroke-dasharray="3.6 4.2"/>
<path class="l" d="M592 285.3L635 285.3" stroke-dasharray="4 4"/>
<path class="l" d="M611.7 296L611.7 490.5" stroke-dasharray="3.6 4.4"/>
<path class="l" d="M861.4 490.6L907 490.6" stroke-dasharray="4 3.6"/>
<path class="l" d="M889.4 493.6L907 493.6"/>
<path class="lkk" d="M761 542.6L861 542.6"/>
<path class="l" d="M640 225.4L857 225.4"/>
<path class="lm" d="M710.3 241C710.3 242.2 710.3 245.7 710.3 248C710.2 250.3 710.3 252.2 710.1 255C709.9 257.8 709.6 261.7 709.3 265C709 268.3 708.5 272 708.1 275C707.7 278 707.3 280.3 706.8 283C706.4 285.7 705.9 288.1 705.3 291.3C704.7 294.5 704.1 298.1 703 302C702 305.9 700.5 310.5 699.1 314.4C697.7 318.3 696.2 322.3 694.9 325.3C693.5 328.3 692.7 329.4 691.1 332.3C689.5 335.2 687 339.4 685.3 342.6C683.5 345.9 682.3 348 680.6 351.8C678.9 355.6 676.6 361.4 675.3 365.2C674 369 673.6 370.6 672.8 374.4C672 378.2 670.9 383.7 670.3 387.9C669.7 392.1 669.4 395.4 669.4 399.4C669.4 403.4 669.5 407.6 670 412C670.5 416.4 671.2 420.4 672.1 425.7C673 431 674.2 437.6 675.7 443.6C677.2 449.6 678.8 455.5 680.9 461.5C683 467.5 686 474.6 688 479.4C690 484.1 691.5 486.8 693.1 490C694.7 493.2 696.3 496.1 697.7 498.8C699.1 501.5 700.1 503.8 701.3 506C702.5 508.2 704.1 511.2 704.7 512.3"/>
<path class="lm" d="M785.5 241C785.5 242.2 785.5 245.7 785.5 248C785.6 250.3 785.5 252.2 785.7 255C785.9 257.8 786.2 261.7 786.5 265C786.8 268.3 787.3 272 787.7 275C788.1 278 788.5 280.3 789 283C789.4 285.7 789.9 288.1 790.5 291.3C791.1 294.5 791.7 298.1 792.8 302C793.8 305.9 795.3 310.5 796.7 314.4C798.1 318.3 799.6 322.3 800.9 325.3C802.3 328.3 803.1 329.4 804.7 332.3C806.3 335.2 808.8 339.4 810.5 342.6C812.2 345.9 813.5 348 815.2 351.8C816.9 355.6 819.2 361.4 820.5 365.2C821.8 369 822.2 370.6 823 374.4C823.8 378.2 824.9 383.7 825.5 387.9C826.1 392.1 826.4 395.4 826.4 399.4C826.4 403.4 826.2 407.6 825.8 412C825.3 416.4 824.6 420.4 823.7 425.7C822.8 431 821.6 437.6 820.1 443.6C818.6 449.6 817 455.5 814.9 461.5C812.8 467.5 809.8 474.6 807.8 479.4C805.8 484.1 804.3 486.8 802.7 490C801.1 493.2 799.5 496.1 798.1 498.8C796.7 501.5 795.7 503.8 794.5 506C793.3 508.2 791.7 511.2 791.1 512.3"/>
<path class="l" d="M707.5 241C707.5 242.2 707.5 245.7 707.5 248C707.4 250.3 707.5 252.2 707.3 255C707.1 257.8 706.8 261.7 706.5 265C706.2 268.3 705.7 272 705.3 275C704.9 278 704.5 280.3 704 283C703.6 285.7 703.1 288.1 702.5 291.3C701.9 294.5 701.3 298.1 700.2 302C699.2 305.9 697.7 310.5 696.3 314.4C694.9 318.3 693.4 322.3 692.1 325.3C690.7 328.3 689.9 329.4 688.3 332.3C686.7 335.2 684.2 339.4 682.5 342.6C680.8 345.9 679.5 348 677.8 351.8C676.1 355.6 673.8 361.4 672.5 365.2C671.2 369 670.8 370.6 670 374.4C669.2 378.2 668.1 383.7 667.5 387.9C666.9 392.1 666.6 395.4 666.6 399.4C666.6 403.4 666.8 407.6 667.2 412C667.7 416.4 668.4 420.4 669.3 425.7C670.2 431 671.4 437.6 672.9 443.6C674.4 449.6 676 455.5 678.1 461.5C680.2 467.5 683.2 474.6 685.2 479.4C687.2 484.1 688.5 486.8 690.3 490C692.1 493.2 694.3 496.1 696 498.8C697.7 501.5 699.1 503.8 700.5 506C702 508.2 704 511.2 704.7 512.3" stroke-dasharray="7 2 2 2"/>
<path class="l" d="M788.3 241C788.3 242.2 788.3 245.7 788.3 248C788.4 250.3 788.3 252.2 788.5 255C788.7 257.8 789 261.7 789.3 265C789.6 268.3 790.1 272 790.5 275C790.9 278 791.3 280.3 791.8 283C792.2 285.7 792.7 288.1 793.3 291.3C793.9 294.5 794.5 298.1 795.5 302C796.6 305.9 798.1 310.5 799.5 314.4C800.9 318.3 802.4 322.3 803.7 325.3C805.1 328.3 805.9 329.4 807.5 332.3C809.1 335.2 811.5 339.4 813.3 342.6C815 345.9 816.3 348 818 351.8C819.7 355.6 822 361.4 823.3 365.2C824.6 369 825 370.6 825.8 374.4C826.6 378.2 827.7 383.7 828.3 387.9C828.9 392.1 829.1 395.4 829.2 399.4C829.2 403.4 829 407.6 828.6 412C828.1 416.4 827.4 420.4 826.5 425.7C825.5 431 824.4 437.6 822.9 443.6C821.4 449.6 819.8 455.5 817.7 461.5C815.6 467.5 812.6 474.6 810.6 479.4C808.6 484.1 807.3 486.8 805.5 490C803.7 493.2 801.5 496.1 799.8 498.8C798.1 501.5 796.7 503.8 795.3 506C793.8 508.2 791.8 511.2 791.1 512.3" stroke-dasharray="7 2 2 2"/>
<path class="l" d="M797.6 311.4H794.6M698.2 311.4H701.2"/>
<path class="l" d="M704.7 512.3C705.4 513.4 707.4 516.8 709 519C710.6 521.2 712.5 523.5 714.5 525.5C716.5 527.5 718.7 529.6 721 531.2C723.3 532.8 725.7 534.3 728.5 535.3C731.3 536.3 734.8 536.9 738 537.3C741.2 537.7 744.6 537.7 747.9 537.7C751.2 537.7 754.6 537.7 757.8 537.3C761 536.9 764.5 536.3 767.3 535.3C770.1 534.3 772.5 532.8 774.8 531.2C777.1 529.6 779.3 527.5 781.3 525.5C783.3 523.5 785.2 521.2 786.8 519C788.4 516.8 790.4 513.4 791.1 512.3"/>
<path class="lb" d="M714.5 531.7C715.6 532.7 718.7 535.8 721 537.4C723.3 539 725.7 540.5 728.5 541.5C731.3 542.5 734.8 543.1 738 543.5C741.2 543.9 744.6 543.9 747.9 543.9C751.2 543.9 754.6 543.9 757.8 543.5C761 543.1 764.5 542.5 767.3 541.5C770.1 540.5 772.5 539 774.8 537.4C777.1 535.8 780.2 532.7 781.3 531.7"/>
<path class="l" d="M714.5 528.7C715.6 529.7 718.7 532.8 721 534.4C723.3 536 725.7 537.5 728.5 538.5C731.3 539.5 734.8 540.1 738 540.5C741.2 540.9 744.6 540.9 747.9 540.9C751.2 540.9 754.6 540.9 757.8 540.5C761 540.1 764.5 539.5 767.3 538.5C770.1 537.5 772.5 536 774.8 534.4C777.1 532.8 780.2 529.7 781.3 528.7" stroke-dasharray="5 2"/>
<path class="l" d="M705.2 512V553.4Q705.2 557.4 709.2 557.4H787.4Q791.4 557.4 791.4 553.4V512"/>
<path class="l" d="M707 553.9L790 553.9" stroke-dasharray="7 2 2 2"/>
<path class="lb" d="M715.8 554V547H730.4V554M765.6 554V547H780.9V554" stroke-dasharray="8 1.5"/>
<rect x="714.8" y="552.6" width="3.4" height="2.6" fill="#000"/>
<rect x="721.8" y="552.6" width="3.4" height="2.6" fill="#000"/>
<rect x="769.8" y="552.6" width="3.4" height="2.6" fill="#000"/>
<rect x="776.8" y="552.6" width="3.4" height="2.6" fill="#000"/>
<path class="l" d="M724 525.2L775 525.2" stroke-dasharray="3.4 3.4"/>
<path class="lb" d="M735 545.6L762 545.6" stroke-dasharray="6 2"/>
<path class="l" d="M705.3 238V221.1H791.7V238"/>
<path class="lk" d="M706.2 222V239M790.8 222V239"/>
<path class="l" d="M712 226.8L785 226.8" stroke-dasharray="5 2"/>
<path class="l" d="M712 230.2L785 230.2" stroke-dasharray="6 2.5"/>
<path class="lb" d="M716 233L781 233" stroke-dasharray="3 2.2"/>
<path class="l" d="M712 236.8L785 236.8" stroke-dasharray="6 2"/>
<path class="l" d="M702.7 230V237.2Q702.7 240.6 706 240.6H710M794.8 230V237.2Q794.8 240.6 791.5 240.6H787"/>
<path class="l" d="M708 221.3L708 238"/>
<path class="l" d="M789 221.3L789 238"/>
<path class="lb" d="M717 222.5H727V226H717ZM770 222.5H780V226H770Z"/>
<path class="l" d="M707 224L790 224" stroke-dasharray="6 2"/>
<path class="lb" d="M707 228.6L790 228.6" stroke-dasharray="7 2"/>
<path class="lb" d="M707 231.7L790 231.7" stroke-dasharray="6 2.4"/>
<path class="lk" d="M714 234L783 234" stroke-dasharray="4 2"/>
<path class="l" d="M707 235.4L790 235.4" stroke-dasharray="7 2"/>
<path class="l" d="M710 238.2L787 238.2"/>
<path class="l" d="M715 241.5L781 241.5" stroke-dasharray="5 2.5"/>
<path class="lt" d="M718 244.6L778 244.6" stroke-dasharray="3 3"/>
<path class="lt" d="M725 252L735 247M755 247L768 253" stroke-dasharray="2.5 3"/>
<path class="lt" d="M726.8 268.8C730.1 268.4 734.1 268.8 737.7 268.8C741.3 268.8 744.8 268.8 748.3 268.8C751.8 268.8 755.3 268.8 758.9 268.8C762.5 268.8 766.5 268.4 769.8 268.8C773.1 269.2 776.2 269.8 778.6 271.1C781 272.3 782.9 274.2 784.2 276.2C785.5 278.2 786 280.8 786.6 283.2C787.3 285.7 787.7 288.1 788.3 290.7C788.9 293.4 789.5 296.3 790.2 299.1C790.9 301.8 791.6 304.6 792.4 307.4C793.3 310.1 794.3 313 795.2 315.6C796.2 318.2 797.1 320.4 798.2 322.8C799.3 325.2 800.8 327.6 802.1 330C803.4 332.4 804.8 334.9 806.2 337.3C807.6 339.8 809.1 342.3 810.4 344.8C811.7 347.3 813 349.8 814.1 352.3C815.1 354.9 816 357 816.9 359.9C817.8 362.8 818.8 366.2 819.6 369.6C820.3 373 821 376.6 821.4 380.4C821.9 384.2 822.3 388.3 822.2 392.3C822.2 396.3 821.6 400.7 821 404.3C820.4 407.9 819.3 411 818.4 414.1C817.5 417.1 816.6 419.8 815.6 422.6C814.6 425.4 813.6 428.2 812.5 431C811.5 433.8 810.5 436.6 809.6 439.4C808.6 442.2 807.9 445.1 807 447.8C806.1 450.5 805.3 453 804 455.5C802.7 458 801.1 460.5 799.3 462.8C797.5 465.1 795.6 467 793.3 469.2C791 471.4 788.2 473.9 785.4 475.8C782.6 477.8 779.7 479.3 776.6 480.7C773.6 482.1 770.4 483.1 767.4 484C764.3 484.8 761.6 485.4 758.6 485.8C755.7 486.3 752.5 486.6 749.6 486.6C746.6 486.6 743.6 486.3 740.9 485.8C738.1 485.4 735.7 484.8 733 484C730.3 483.1 727.3 482 724.6 480.7C721.9 479.3 719.2 477.7 716.6 475.8C714.1 473.9 711.4 471.3 709.2 469.2C706.9 467 705 465.1 703.1 462.9C701.2 460.6 699.4 458.2 697.8 455.8C696.3 453.3 695 450.9 693.5 448.2C692.1 445.5 690.7 442.5 689.4 439.7C688.1 436.8 686.8 434 685.6 431.2C684.4 428.3 683.2 425.5 682.1 422.7C681 419.8 679.9 417.2 678.9 414.1C677.8 411.1 676.7 408 675.9 404.4C675.2 400.7 674.5 396.4 674.4 392.4C674.2 388.4 674.6 384.2 675 380.4C675.4 376.6 676 373.1 676.7 369.6C677.5 366.2 678.5 362.8 679.4 359.9C680.3 357 681.1 354.9 682.2 352.3C683.3 349.8 684.5 347.3 685.8 344.8C687.2 342.3 688.7 339.8 690 337.3C691.4 334.9 692.8 332.4 694.2 330C695.5 327.6 697 325.2 698.1 322.8C699.3 320.4 700.1 318.2 701.1 315.6C702.1 313 703.1 310.1 703.9 307.4C704.8 304.6 705.5 301.8 706.2 299.1C706.9 296.3 707.5 293.3 708.1 290.7C708.8 288 709.3 285.6 710 283.2C710.7 280.8 711.1 278.2 712.4 276.2C713.7 274.2 715.6 272.3 718 271.1C720.4 269.8 723.5 269.2 726.8 268.8Z" stroke-dasharray="3 2"/>
<path class="l" d="M727.1 271.4C730.2 271.1 734.2 271.4 737.7 271.4C741.2 271.4 744.8 271.4 748.3 271.4C751.8 271.4 755.4 271.4 758.9 271.4C762.4 271.4 766.4 271.1 769.5 271.4C772.6 271.7 775.4 272.4 777.4 273.4C779.5 274.4 780.9 275.9 782 277.6C783.1 279.4 783.5 281.6 784.1 283.9C784.7 286.2 785.1 288.7 785.7 291.3C786.3 293.9 787 296.9 787.7 299.7C788.4 302.5 789.1 305.3 789.9 308.1C790.8 310.9 791.8 313.9 792.8 316.5C793.8 319.2 794.7 321.4 795.9 323.9C797 326.3 798.5 328.8 799.8 331.3C801.2 333.7 802.6 336.2 803.9 338.6C805.3 341.1 806.8 343.5 808.1 346C809.4 348.4 810.6 350.9 811.7 353.4C812.7 355.8 813.5 357.9 814.4 360.7C815.3 363.5 816.3 366.9 817 370.2C817.8 373.5 818.4 377 818.9 380.7C819.3 384.4 819.7 388.4 819.6 392.3C819.6 396.1 819 400.3 818.4 403.8C817.8 407.4 816.8 410.3 815.9 413.3C815.1 416.3 814.1 418.9 813.1 421.7C812.2 424.5 811.1 427.3 810.1 430.1C809.1 433 808 435.8 807.1 438.6C806.2 441.4 805.4 444.3 804.5 447C803.6 449.6 802.9 452 801.7 454.3C800.5 456.7 799 459 797.3 461.2C795.6 463.3 793.7 465.2 791.5 467.3C789.3 469.4 786.6 471.9 783.9 473.7C781.3 475.5 778.5 477 775.6 478.3C772.7 479.6 769.5 480.7 766.6 481.5C763.7 482.3 761.1 482.9 758.2 483.3C755.4 483.7 752.4 484 749.6 484C746.7 484 743.9 483.7 741.3 483.3C738.7 482.9 736.4 482.3 733.8 481.5C731.2 480.7 728.4 479.6 725.8 478.3C723.2 477 720.7 475.5 718.2 473.7C715.7 471.9 713.1 469.4 711 467.3C708.8 465.2 706.9 463.3 705.1 461.2C703.2 459 701.6 456.7 700 454.3C698.5 452 697.2 449.6 695.8 447C694.5 444.3 693.1 441.4 691.8 438.6C690.4 435.8 689.2 433 688 430.1C686.8 427.3 685.7 424.5 684.5 421.7C683.4 418.9 682.4 416.3 681.3 413.3C680.3 410.3 679.2 407.4 678.5 403.8C677.8 400.3 677.1 396.1 677 392.3C676.8 388.4 677.2 384.4 677.6 380.7C677.9 377 678.6 373.5 679.3 370.2C680 366.9 681 363.5 681.9 360.7C682.7 357.9 683.5 355.8 684.6 353.4C685.6 350.9 686.9 348.4 688.2 346C689.4 343.5 690.9 341.1 692.3 338.6C693.7 336.2 695.1 333.7 696.5 331.3C697.8 328.8 699.3 326.3 700.5 323.9C701.6 321.4 702.5 319.2 703.5 316.5C704.5 313.9 705.6 310.9 706.4 308.1C707.3 305.3 708 302.5 708.7 299.7C709.4 296.9 710 293.9 710.7 291.3C711.3 288.7 711.8 286.2 712.5 283.9C713.1 281.6 713.5 279.4 714.6 277.6C715.7 275.9 717.1 274.4 719.1 273.4C721.2 272.4 724 271.7 727.1 271.4Z"/>
<path class="lk" d="M727.4 273.8C730.3 273.5 734.2 273.8 737.7 273.8C741.2 273.8 744.8 273.8 748.3 273.8C751.8 273.8 755.4 273.8 758.9 273.8C762.4 273.8 766.3 273.5 769.2 273.8C772.2 274.1 774.6 274.7 776.4 275.5C778.2 276.4 779.1 277.4 780 278.9C780.9 280.4 781.2 282.4 781.8 284.5C782.4 286.7 782.8 289.2 783.4 291.8C784 294.4 784.6 297.4 785.4 300.3C786.1 303.1 786.8 306 787.6 308.8C788.5 311.7 789.5 314.7 790.6 317.4C791.6 320.1 792.5 322.4 793.7 324.9C794.9 327.4 796.3 329.9 797.7 332.4C799.1 334.9 800.5 337.4 801.9 339.8C803.2 342.2 804.7 344.7 806 347.1C807.2 349.5 808.4 351.9 809.5 354.3C810.5 356.7 811.2 358.7 812.1 361.4C813 364.2 814 367.4 814.7 370.7C815.4 374 816 377.4 816.5 381C816.9 384.6 817.3 388.5 817.2 392.2C817.2 396 816.7 400 816.1 403.4C815.5 406.8 814.5 409.7 813.6 412.6C812.8 415.6 811.8 418.2 810.9 420.9C809.9 423.7 808.8 426.5 807.8 429.3C806.8 432.1 805.7 435 804.8 437.8C803.9 440.6 803.1 443.6 802.3 446.2C801.4 448.8 800.7 451 799.5 453.2C798.4 455.5 797 457.7 795.4 459.7C793.8 461.7 792 463.5 789.9 465.5C787.7 467.5 785.1 470 782.5 471.7C780 473.5 777.4 474.9 774.6 476.1C771.8 477.4 768.8 478.4 766 479.2C763.2 480 760.6 480.5 757.9 480.9C755.2 481.3 752.3 481.6 749.6 481.6C746.9 481.6 744.2 481.3 741.7 480.9C739.2 480.5 737 480 734.5 479.2C732 478.4 729.3 477.4 726.8 476.2C724.4 474.9 722 473.5 719.6 471.8C717.3 470 714.7 467.6 712.6 465.5C710.5 463.5 708.6 461.7 706.9 459.6C705.1 457.5 703.5 455.3 702 453C700.5 450.7 699.3 448.4 698 445.9C696.6 443.3 695.2 440.3 693.9 437.5C692.6 434.8 691.4 432 690.2 429.2C689 426.4 687.9 423.6 686.8 420.8C685.7 418.1 684.6 415.5 683.6 412.5C682.6 409.6 681.5 406.8 680.8 403.4C680.1 400 679.5 395.9 679.4 392.2C679.2 388.4 679.6 384.5 679.9 381C680.3 377.4 680.9 373.9 681.6 370.7C682.3 367.4 683.3 364.2 684.1 361.4C685 358.7 685.8 356.7 686.8 354.3C687.8 351.9 689 349.5 690.3 347.1C691.5 344.7 693 342.2 694.4 339.8C695.8 337.4 697.2 334.9 698.6 332.4C699.9 329.9 701.4 327.4 702.6 324.9C703.8 322.4 704.8 320.1 705.8 317.4C706.8 314.7 707.8 311.7 708.7 308.8C709.6 306 710.3 303.1 711 300.3C711.7 297.5 712.4 294.5 713 291.8C713.6 289.2 714.2 286.7 714.8 284.6C715.4 282.4 715.7 280.4 716.6 278.9C717.5 277.4 718.4 276.4 720.2 275.5C722 274.7 724.4 274.1 727.4 273.8Z" stroke-dasharray="3.2 2.2"/>
<path class="l" d="M727.6 276.2C730.4 275.9 734.3 276.2 737.7 276.2C741.1 276.2 744.8 276.2 748.3 276.2C751.8 276.2 755.5 276.2 758.9 276.2C762.3 276.2 766.2 275.9 769 276.2C771.7 276.4 773.8 277 775.3 277.7C776.8 278.4 777.3 278.9 778 280.2C778.7 281.4 779 283.2 779.5 285.2C780 287.2 780.5 289.7 781 292.3C781.6 295 782.3 298 783 300.9C783.7 303.7 784.5 306.6 785.4 309.5C786.2 312.4 787.3 315.5 788.3 318.2C789.3 321 790.3 323.4 791.5 326C792.7 328.5 794.2 331.1 795.6 333.6C797 336.1 798.4 338.5 799.8 341C801.1 343.4 802.6 345.8 803.8 348.2C805.1 350.6 806.3 352.9 807.3 355.2C808.3 357.6 809 359.5 809.8 362.2C810.7 364.8 811.6 368 812.3 371.2C813.1 374.4 813.7 377.8 814.1 381.3C814.5 384.8 814.9 388.6 814.8 392.2C814.8 395.8 814.3 399.7 813.7 403C813.1 406.3 812.2 409.1 811.3 412C810.5 414.8 809.6 417.4 808.6 420.2C807.6 422.9 806.6 425.7 805.6 428.5C804.6 431.3 803.5 434.2 802.5 437.1C801.6 439.9 800.9 442.9 800 445.4C799.1 447.9 798.5 450 797.4 452.2C796.3 454.3 795 456.3 793.5 458.2C792 460.2 790.3 461.9 788.2 463.8C786.2 465.7 783.6 468.1 781.2 469.8C778.7 471.5 776.3 472.8 773.6 474C771 475.1 768 476.1 765.3 476.9C762.6 477.6 760.2 478.1 757.5 478.5C754.9 478.9 752.2 479.2 749.6 479.2C747 479.2 744.4 478.9 742 478.5C739.7 478.1 737.6 477.7 735.2 476.9C732.9 476.2 730.3 475.2 727.9 474C725.5 472.9 723.3 471.6 721.1 469.9C718.8 468.1 716.3 465.8 714.3 463.8C712.2 461.8 710.4 460.1 708.7 458.1C707 456.1 705.5 454 704 451.7C702.6 449.5 701.4 447.3 700.1 444.8C698.8 442.2 697.4 439.3 696.1 436.5C694.8 433.8 693.6 431 692.4 428.3C691.2 425.5 690.1 422.7 689 420C687.9 417.2 686.9 414.6 685.9 411.8C684.9 408.9 683.9 406.2 683.2 402.9C682.5 399.6 681.9 395.7 681.8 392.1C681.6 388.5 682 384.7 682.3 381.2C682.7 377.7 683.3 374.4 684 371.2C684.7 368 685.6 364.8 686.4 362.2C687.3 359.5 688 357.6 689 355.2C690 352.9 691.2 350.6 692.4 348.2C693.7 345.8 695.1 343.4 696.5 341C697.9 338.5 699.3 336.1 700.7 333.6C702 331.1 703.6 328.5 704.8 326C706 323.4 707 321 708 318.2C709.1 315.5 710.1 312.4 711 309.5C711.9 306.6 712.6 303.7 713.4 300.9C714.1 298 714.7 295 715.3 292.4C716 289.8 716.5 287.3 717.1 285.2C717.6 283.2 717.9 281.4 718.6 280.2C719.3 278.9 719.8 278.4 721.3 277.7C722.8 277 724.9 276.4 727.6 276.2Z"/>
<path class="l" d="M727.9 278.8C730.4 278.6 734.3 278.8 737.7 278.8C741.1 278.8 744.8 278.8 748.3 278.8C751.8 278.8 755.5 278.8 758.9 278.8C762.3 278.8 766.2 278.6 768.7 278.8C771.3 279 773 279.6 774.2 280C775.3 280.5 775.3 280.6 775.8 281.6C776.2 282.5 776.5 284 777 285.9C777.4 287.7 777.9 290.3 778.5 292.9C779.1 295.5 779.8 298.6 780.5 301.5C781.2 304.4 782 307.3 782.9 310.3C783.8 313.2 784.8 316.3 785.9 319.1C786.9 321.9 787.9 324.5 789.2 327.1C790.4 329.7 791.9 332.3 793.3 334.8C794.7 337.4 796.1 339.8 797.5 342.3C798.9 344.7 800.3 347.1 801.5 349.4C802.8 351.8 803.9 354 804.9 356.3C805.8 358.5 806.5 360.4 807.4 363C808.2 365.5 809.1 368.7 809.8 371.8C810.5 374.9 811.1 378.2 811.5 381.6C811.9 385 812.3 388.6 812.2 392.1C812.2 395.6 811.7 399.4 811.1 402.6C810.6 405.7 809.7 408.4 808.8 411.2C808 414 807.1 416.6 806.1 419.3C805.2 422 804.1 424.8 803.1 427.6C802.1 430.5 801 433.4 800.1 436.2C799.1 439.1 798.4 442.1 797.5 444.6C796.7 447 796.1 449 795.1 451C794.1 453 792.9 454.8 791.5 456.6C790 458.4 788.4 460 786.5 461.9C784.5 463.7 782 466 779.7 467.6C777.4 469.2 775.1 470.5 772.5 471.6C770 472.7 767.2 473.6 764.6 474.4C762 475.1 759.7 475.6 757.2 476C754.7 476.3 752 476.6 749.6 476.6C747.1 476.6 744.7 476.3 742.5 476C740.2 475.6 738.3 475.1 736 474.4C733.8 473.7 731.3 472.8 729.1 471.7C726.8 470.6 724.8 469.4 722.6 467.8C720.5 466.1 718 463.8 716.1 461.9C714.1 460 712.3 458.3 710.7 456.4C709.1 454.5 707.6 452.5 706.2 450.3C704.8 448.2 703.7 446 702.4 443.5C701.1 441.1 699.7 438.2 698.5 435.4C697.2 432.7 696 430 694.8 427.2C693.6 424.5 692.5 421.7 691.4 419C690.4 416.3 689.3 413.7 688.3 410.9C687.4 408.2 686.4 405.5 685.7 402.3C685.1 399.2 684.5 395.5 684.4 392C684.2 388.5 684.6 384.8 684.9 381.5C685.3 378.1 685.9 374.8 686.5 371.7C687.2 368.6 688.1 365.5 688.9 362.9C689.7 360.4 690.4 358.5 691.4 356.3C692.4 354 693.5 351.8 694.7 349.4C695.9 347.1 697.4 344.7 698.8 342.3C700.1 339.8 701.5 337.4 702.9 334.8C704.3 332.3 705.9 329.7 707.1 327.1C708.4 324.5 709.4 321.9 710.5 319.1C711.5 316.3 712.6 313.2 713.5 310.3C714.4 307.4 715.1 304.4 715.9 301.5C716.6 298.6 717.3 295.6 717.9 293C718.5 290.4 719.1 287.9 719.6 286C720.1 284.1 720.4 282.6 720.8 281.6C721.3 280.6 721.3 280.5 722.4 280C723.6 279.6 725.3 279 727.9 278.8Z" stroke-dasharray="3.4 2.6"/>
<path class="l" d="M728.2 281.5C730.5 281.4 734.3 281.6 737.7 281.6C741.1 281.6 744.8 281.6 748.3 281.6C751.8 281.6 755.5 281.6 758.9 281.6C762.3 281.6 766.1 281.4 768.4 281.5C770.7 281.7 772.1 282.3 772.9 282.5C773.7 282.8 773.2 282.4 773.4 283.1C773.6 283.7 773.9 284.8 774.3 286.6C774.7 288.3 775.2 290.9 775.8 293.5C776.4 296.1 777 299.3 777.8 302.2C778.5 305.1 779.3 308.1 780.2 311.1C781.1 314.1 782.2 317.2 783.2 320.1C784.3 323 785.4 325.6 786.6 328.3C787.9 331 789.5 333.6 790.9 336.2C792.3 338.7 793.7 341.2 795.1 343.6C796.4 346 797.9 348.4 799.1 350.7C800.3 353 801.4 355.2 802.3 357.4C803.2 359.6 803.9 361.3 804.7 363.8C805.5 366.3 806.4 369.4 807.1 372.4C807.7 375.4 808.3 378.6 808.7 381.9C809.1 385.2 809.5 388.7 809.4 392.1C809.4 395.5 808.9 399 808.4 402.1C807.8 405.1 807 407.7 806.2 410.4C805.3 413.1 804.4 415.7 803.5 418.4C802.6 421.1 801.5 423.9 800.5 426.7C799.5 429.5 798.3 432.5 797.4 435.4C796.5 438.2 795.7 441.3 794.9 443.7C794.1 446 793.5 447.8 792.6 449.7C791.6 451.6 790.6 453.2 789.2 454.9C787.9 456.6 786.4 458.1 784.5 459.8C782.7 461.6 780.3 463.8 778.1 465.3C775.9 466.8 773.8 468 771.4 469C769 470.1 766.3 471 763.8 471.7C761.4 472.4 759.1 472.8 756.8 473.2C754.4 473.5 751.9 473.8 749.6 473.8C747.3 473.8 745 473.5 742.9 473.2C740.8 472.9 739 472.4 736.9 471.8C734.8 471.1 732.4 470.2 730.3 469.2C728.2 468.2 726.4 467.1 724.3 465.5C722.2 464 719.9 461.7 718 459.9C716.1 458.1 714.4 456.4 712.8 454.6C711.3 452.7 709.9 450.9 708.6 448.8C707.3 446.7 706.1 444.7 704.9 442.2C703.6 439.8 702.3 436.9 701 434.2C699.7 431.6 698.5 428.8 697.4 426.1C696.2 423.4 695.1 420.7 694 418C693 415.3 691.9 412.7 691 410C690.1 407.3 689.1 404.8 688.5 401.8C687.8 398.7 687.3 395.2 687.2 391.9C687 388.5 687.4 385 687.7 381.8C688.1 378.5 688.6 375.3 689.3 372.3C689.9 369.3 690.8 366.3 691.6 363.8C692.4 361.3 693 359.5 694 357.4C694.9 355.2 696 353 697.2 350.7C698.4 348.4 699.8 346.1 701.2 343.6C702.6 341.2 704 338.7 705.4 336.2C706.8 333.6 708.4 331 709.6 328.3C710.9 325.6 712 323 713.1 320.1C714.2 317.3 715.2 314.1 716.2 311.1C717.1 308.1 717.9 305.1 718.6 302.2C719.3 299.3 720 296.2 720.6 293.7C721.2 291.1 721.8 288.5 722.3 286.7C722.7 285 723 283.8 723.2 283.1C723.4 282.4 722.9 282.8 723.7 282.5C724.5 282.3 725.9 281.7 728.2 281.5Z" stroke-dasharray="4 2"/>
<path class="lb" d="M728.5 284.7C730.6 284.6 734.4 284.8 737.7 284.8C741 284.8 744.8 284.8 748.3 284.8C751.8 284.8 755.6 284.8 758.9 284.8C762.2 284.8 766 284.6 768.1 284.7C770.2 284.8 771.1 285.4 771.5 285.4C771.9 285.4 770.7 284.5 770.7 284.8C770.6 285.1 770.9 285.9 771.2 287.4C771.5 289 772.1 291.6 772.6 294.2C773.2 296.8 773.9 300 774.7 303C775.4 305.9 776.2 309 777.1 312C778.1 315.1 779.1 318.3 780.2 321.2C781.4 324.2 782.4 326.9 783.8 329.7C785.1 332.4 786.6 335.1 788.1 337.7C789.5 340.3 790.9 342.8 792.3 345.2C793.6 347.6 795 350 796.2 352.2C797.4 354.4 798.4 356.5 799.3 358.6C800.3 360.7 800.9 362.4 801.6 364.8C802.4 367.2 803.3 370.2 804 373.1C804.6 376 805.2 379.1 805.6 382.3C805.9 385.4 806.3 388.8 806.2 392C806.2 395.2 805.8 398.6 805.2 401.5C804.7 404.4 803.9 406.9 803.1 409.5C802.3 412.1 801.4 414.7 800.5 417.3C799.5 420 798.5 422.8 797.5 425.6C796.5 428.5 795.3 431.5 794.4 434.4C793.4 437.2 792.6 440.3 791.9 442.6C791.1 444.9 790.6 446.5 789.7 448.2C788.9 450 788 451.4 786.7 452.9C785.5 454.5 784.1 455.9 782.3 457.5C780.6 459.1 778.3 461.3 776.3 462.7C774.2 464.1 772.3 465.1 770.1 466.1C767.9 467.1 765.3 467.9 763 468.6C760.7 469.2 758.5 469.7 756.3 470C754.1 470.4 751.7 470.6 749.6 470.6C747.4 470.6 745.4 470.4 743.4 470C741.4 469.7 739.8 469.3 737.8 468.7C735.9 468.1 733.7 467.3 731.7 466.3C729.8 465.4 728.1 464.4 726.2 463C724.3 461.5 722 459.3 720.2 457.6C718.4 455.8 716.8 454.3 715.3 452.5C713.8 450.8 712.5 449 711.3 447.1C710 445.1 708.9 443.1 707.7 440.8C706.5 438.4 705.1 435.5 703.9 432.9C702.7 430.2 701.5 427.5 700.3 424.9C699.2 422.2 698.1 419.4 697 416.8C696 414.2 694.9 411.6 694 409C693.1 406.4 692.2 404 691.6 401.1C691 398.2 690.5 394.9 690.4 391.7C690.2 388.6 690.5 385.2 690.9 382.1C691.2 379 691.8 375.9 692.4 373C693 370.1 693.9 367.1 694.6 364.7C695.4 362.3 696 360.7 696.9 358.6C697.8 356.5 698.8 354.4 700 352.2C701.2 350 702.6 347.6 704 345.2C705.3 342.8 706.8 340.3 708.2 337.7C709.6 335.2 711.2 332.4 712.5 329.7C713.8 326.9 714.9 324.2 716.1 321.3C717.2 318.3 718.3 315.1 719.2 312.1C720.2 309 720.9 305.9 721.7 303C722.4 300 723.1 297 723.7 294.4C724.3 291.8 725 289.2 725.4 287.6C725.7 286 725.9 285.2 725.9 284.8C725.9 284.4 724.7 285.4 725.1 285.4C725.5 285.4 726.4 284.8 728.5 284.7Z" stroke-dasharray="4.5 2.2"/>
<g transform="matrix(1.061 0 0 1.0456 448.6 -33.1)"><path class="ls" d="M246.5 325.3V431Q244.6 438.5 250 441Q254 441.6 257 438.6Q262 436.2 267.5 434.4Q270.4 432.6 270.2 427V384L268.6 380V325.3Z" stroke-dasharray="3 2.2"/><path class="l" d="M246.5 325.3H268.6" stroke-dasharray="4 2"/><path class="l" d="M246.5 342H268.6"/><circle class="lc" cx="257.3" cy="334.2" r="5"/><path class="l" d="M252.4 424.2V408Q252.6 404.5 256 405.2Q264.3 406.5 264.3 413V420.6Z" stroke-dasharray="5 1.6"/><path class="lb" d="M245.2 382.4C244 384.5 240.1 391 238 395C235.9 399 233.6 402.3 232.5 406.5C231.4 410.7 231.2 415.2 231.3 420C231.4 424.8 231.9 430.3 233 435C234.1 439.7 235.8 444.3 238 448C240.2 451.7 242.8 454.8 246 457C249.2 459.2 253.3 460.8 257 461C260.7 461.2 264.8 460.2 268 458.5C271.2 456.8 274.2 454.1 276.5 451C278.8 447.9 280.6 444.3 282 440C283.4 435.7 284.4 429.7 284.6 425C284.9 420.3 284.3 416.7 283.5 412C282.7 407.3 281.5 400.4 279.9 396.6C278.3 392.8 275.9 391.4 274 389C272.1 386.6 269.5 383.5 268.6 382.4" stroke-dasharray="3.6 1.6"/><path class="l" d="M232.5 406.5L245.2 382.4"/><path class="l" d="M268.6 382.4L279.9 396.6L288.4 410.7L292 420"/><path class="l" d="M281.9 334.5L279.5 358L276.2 378Q275.3 388 280.5 396.6Q288 408 291 419"/><path class="l" d="M320.6 334.5L323.5 358L327.4 385Q328 393 322 402Q314 411 311.6 421"/><path class="l" d="M281.9 335.5Q284.2 330.5 286.6 335.5M292.2 335.5Q294.9 330.5 297.6 335.5M306.6 335.5Q309.3 330.5 312 335.5M316.8 335.5Q318.7 330.5 320.6 335.5"/><path class="l" d="M286.6 335.5L285.3 384.5Q288.6 389 291.9 384.5L292.2 335.5"/><path class="l" d="M297.6 335.5L299.7 379Q303.2 383.5 306.8 379L306.6 335.5"/><path class="l" d="M312 335.5L312.4 384.5Q315.9 389 319.5 384.5L316.8 335.5"/><path class="l" d="M290.6 475.5V370.4L311 361.2L312.3 363.3V475.5"/><path class="lk" d="M290.6 370.4V392"/><path class="lk" d="M312.3 372V380"/><path class="lb" d="M289.5 458V476M313.4 458V476"/><path class="l" d="M291 458.3H312" stroke-dasharray="5 2"/><path class="l" d="M291 475.8H312" stroke-dasharray="5 2"/><circle class="lc" cx="301.8" cy="468" r="5"/><path class="l" d="M294.6 382L304.5 376.8Q308.8 377.2 309.2 380L309.3 396.3L305 398.6L294.6 392.3Z" stroke-dasharray="5 1.6"/><path class="l" d="M299.5 382V386.5Q301 388.5 303.5 386V381"/></g>
<circle class="l" cx="861.7" cy="326.4" r="25.4"/><path class="lb" d="M885.3 326.4L885 327.7L884 328.9L883.1 330L882.5 331.1L882.5 332.4L882.9 333.8L883.2 335.3L883 336.6L882.1 337.7L880.7 338.4L879.4 338.9L878.4 339.7L877.9 340.8L877.6 342.3L877.2 343.8L876.4 344.9L875.2 345.4L873.7 345.4L872.2 345.4L871 345.6L870 346.4L869.1 347.6L868.1 348.8L867 349.4L865.6 349.4L864.2 348.7L862.9 348L861.7 347.7L860.5 348L859.2 348.7L857.8 349.4L856.4 349.4L855.3 348.8L854.3 347.6L853.4 346.4L852.4 345.6L851.2 345.4L849.7 345.4L848.2 345.4L847 344.9L846.2 343.8L845.8 342.3L845.5 340.8L845 339.7L844 338.9L842.7 338.4L841.3 337.7L840.4 336.6L840.2 335.3L840.5 333.8L840.9 332.4L840.9 331.1L840.3 330L839.4 328.9L838.4 327.7L838.1 326.4L838.4 325.1L839.4 323.9L840.3 322.8L840.9 321.7L840.9 320.4L840.5 319L840.2 317.5L840.4 316.2L841.3 315.1L842.7 314.4L844 313.9L845 313.1L845.5 312L845.8 310.5L846.2 309L847 307.9L848.2 307.4L849.7 307.4L851.2 307.4L852.4 307.2L853.4 306.4L854.3 305.2L855.3 304L856.4 303.4L857.8 303.4L859.2 304.1L860.5 304.8L861.7 305.1L862.9 304.8L864.2 304.1L865.6 303.4L867 303.4L868.1 304L869.1 305.2L870 306.4L871 307.2L872.2 307.4L873.7 307.4L875.2 307.4L876.4 307.9L877.2 309L877.6 310.5L877.9 312L878.4 313.1L879.4 313.9L880.7 314.4L882.1 315.1L883 316.2L883.2 317.5L882.9 319L882.5 320.4L882.5 321.7L883.1 322.8L884 323.9L885 325.1Z"/><circle class="lb" cx="861.7" cy="326.4" r="18.2"/>
<text class="bp" transform="translate(851.42 325.38) scale(0.7395 1)" x="0" y="0" font-size="12.66">BPA</text>
<text class="bp" transform="translate(850.06 336.91) scale(0.699 1)" x="0" y="0" font-size="12.04">FREE</text>

</svg>
</body></html>
